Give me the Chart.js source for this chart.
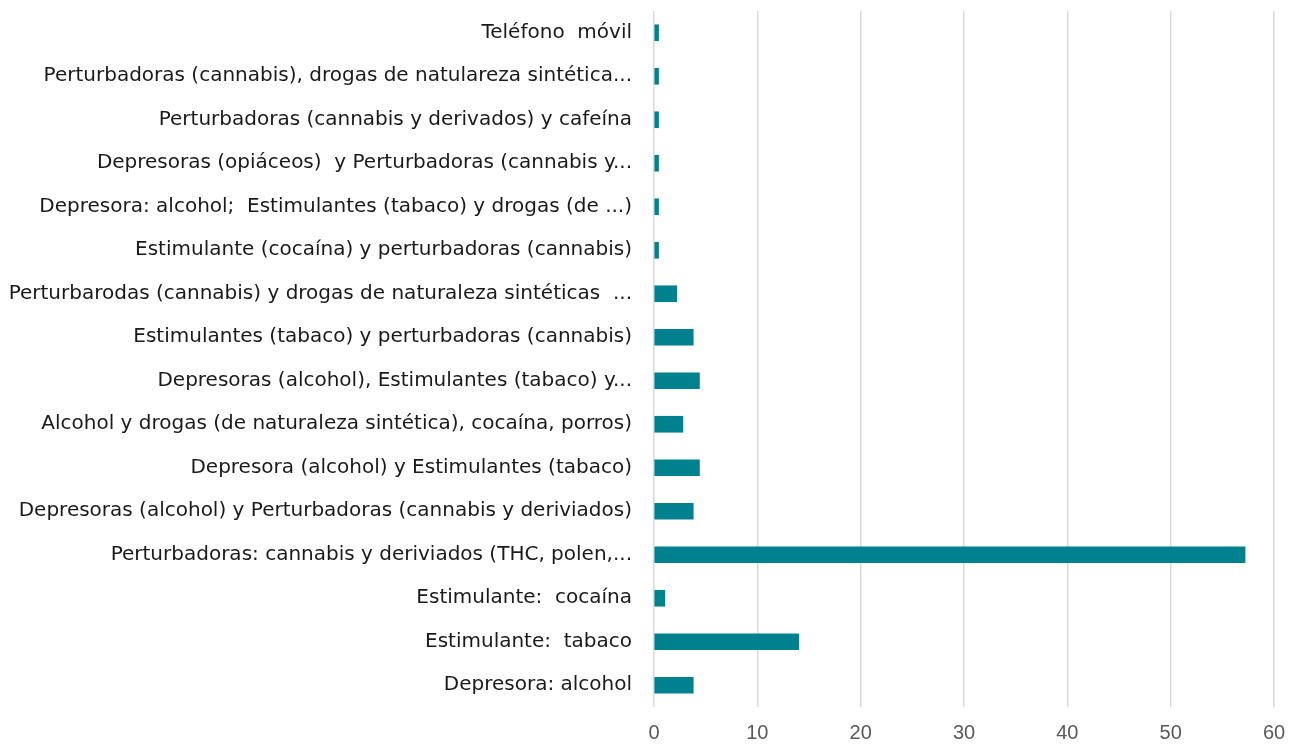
<!DOCTYPE html>
<html>
<head>
<meta charset="utf-8">
<script src="https://cdn.jsdelivr.net/npm/chart.js@4"></script>
<style>
html,body{margin:0;padding:0;background:#fff;}
#wrap{width:1297px;height:744px;position:relative;}
</style>
</head>
<body>
<div id="wrap"><canvas id="c" width="1297" height="744"></canvas></div>
<script>
const categories = [
  "Teléfono  móvil",
  "Perturbadoras (cannabis), drogas de natulareza sintética...",
  "Perturbadoras (cannabis y derivados) y cafeína",
  "Depresoras (opiáceos)  y Perturbadoras (cannabis y...",
  "Depresora: alcohol;  Estimulantes (tabaco) y drogas (de ...)",
  "Estimulante (cocaína) y perturbadoras (cannabis)",
  "Perturbarodas (cannabis) y drogas de naturaleza sintéticas  ...",
  "Estimulantes (tabaco) y perturbadoras (cannabis)",
  "Depresoras (alcohol), Estimulantes (tabaco) y...",
  "Alcohol y drogas (de naturaleza sintética), cocaína, porros)",
  "Depresora (alcohol) y Estimulantes (tabaco)",
  "Depresoras (alcohol) y Perturbadoras (cannabis y deriviados)",
  "Perturbadoras: cannabis y deriviados (THC, polen,...",
  "Estimulante:  cocaína",
  "Estimulante:  tabaco",
  "Depresora: alcohol"
];
const values = [0.44, 0.44, 0.44, 0.44, 0.44, 0.44, 2.2, 3.8, 4.4, 2.8, 4.4, 3.8, 57.2, 1.05, 14.0, 3.8];
const xTicks = [0, 10, 20, 30, 40, 50, 60];

const LABEL_FONT = "'DejaVu Sans', sans-serif";
const TICK_FONT = "'Liberation Sans', Arial, sans-serif";

new Chart(document.getElementById('c'), {
  type: 'bar',
  data: {
    labels: categories,
    datasets: [{
      data: values,
      backgroundColor: '#00818f',
      borderWidth: 0,
      barThickness: 16
    }]
  },
  options: {
    indexAxis: 'y',
    responsive: false,
    animation: false,
    devicePixelRatio: 1,
    layout: { padding: { left: 0, right: 23, top: 11, bottom: 0 } },
    plugins: { legend: { display: false }, tooltip: { enabled: false } },
    scales: {
      x: {
        min: 0, max: 60,
        afterBuildTicks: (s) => { s.ticks = xTicks.map(v => ({ value: v })); },
        afterFit: (s) => { s.height = 37; s.paddingLeft = 0; s.paddingRight = 0; },
        grid: { color: '#d9d9d9', lineWidth: 1.5, drawTicks: false },
        border: { display: false },
        ticks: { color: '#595959', font: { family: TICK_FONT, size: 20 }, padding: 14 }
      },
      y: {
        grid: { display: false },
        border: { display: false },
        afterFit: (s) => { s.width = 654; s.paddingTop = 0; s.paddingBottom = 0; },
        ticks: { color: '#1a1a1a', font: { family: LABEL_FONT, size: 20 }, padding: 14, autoSkip: false }
      }
    }
  }
});
</script>
</body>
</html>
